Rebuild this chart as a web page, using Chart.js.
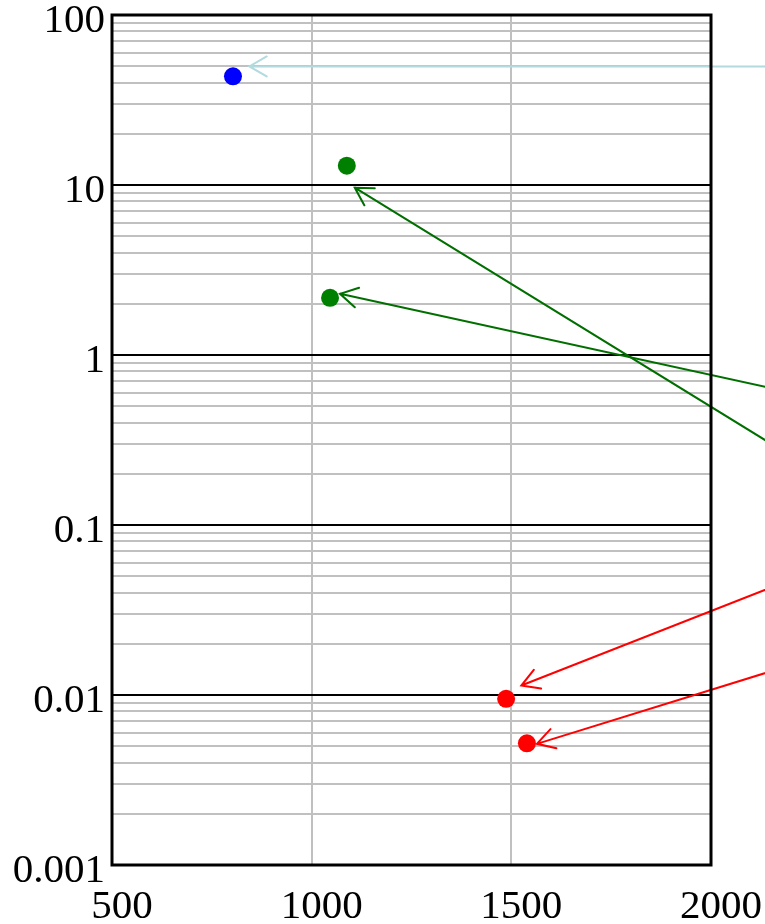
<!DOCTYPE html>
<html>
<head>
<meta charset="utf-8">
<script src="https://cdn.jsdelivr.net/npm/chart.js@4/dist/chart.umd.min.js"></script>
<style>
  html, body { margin: 0; padding: 0; background: #ffffff; }
  #wrap { width: 765px; height: 924px; }
</style>
</head>
<body>
<div id="wrap"><canvas id="chart" width="765" height="924"></canvas></div>
<script>
// Measured points, grouped by colour
const blueX  = [803];
const blueY  = [43.6];
const greenX = [1088, 1046];
const greenY = [13.0, 2.17];
const redX   = [1487, 1539];
const redY   = [0.0095, 0.0052];

// Callout arrows (tail far to the right, tip next to a point)
const arrowTailX = [2250, 2250, 2250, 2250, 2250];
const arrowTailY = [49.8, 0.216, 0.568, 0.0530, 0.0163];
const arrowTipX  = [844, 1108, 1071, 1525, 1564];
const arrowTipY  = [49.8, 9.64, 2.29, 0.01137, 0.00516];
const arrowColors = ['#b2dadf', '#006f00', '#006f00', '#ff0000', '#ff0000'];

// Axis ticks
const xTicks = [500, 1000, 1500, 2000];
const yDecades = [0.001, 0.01, 0.1, 1, 10, 100];
const yMinorSteps = [2, 3, 4, 5, 6, 7, 8, 9];

const toPoints = (xs, ys) => xs.map((x, i) => ({ x: x, y: ys[i] }));

const serif = { family: "'Liberation Serif', 'Times New Roman', serif", size: 41 };

// Frame around the plot and callout arrows
const overlay = {
  id: 'overlay',
  afterDatasetsDraw(chart) {
    const { ctx, chartArea: a, scales: { x, y } } = chart;
    ctx.save();
    ctx.lineWidth = 2;
    ctx.lineCap = 'round';
    for (let i = 0; i < arrowTipX.length; i++) {
      const x0 = x.getPixelForValue(arrowTailX[i]);
      const y0 = y.getPixelForValue(arrowTailY[i]);
      const x1 = x.getPixelForValue(arrowTipX[i]);
      const y1 = y.getPixelForValue(arrowTipY[i]);
      const ang = Math.atan2(y0 - y1, x0 - x1);
      const len = 20, spread = Math.PI / 6;
      ctx.strokeStyle = arrowColors[i];
      ctx.beginPath();
      ctx.moveTo(x0, y0);
      ctx.lineTo(x1, y1);
      ctx.moveTo(x1 + len * Math.cos(ang - spread), y1 + len * Math.sin(ang - spread));
      ctx.lineTo(x1, y1);
      ctx.lineTo(x1 + len * Math.cos(ang + spread), y1 + len * Math.sin(ang + spread));
      ctx.stroke();
    }
    ctx.strokeStyle = '#000000';
    ctx.lineWidth = 3;
    ctx.lineCap = 'butt';
    ctx.strokeRect(a.left, a.top, a.right - a.left, a.bottom - a.top);
    ctx.restore();
  }
};

new Chart(document.getElementById('chart'), {
  type: 'scatter',
  data: {
    datasets: [
      { data: toPoints(blueX, blueY),   backgroundColor: '#0000ff', borderColor: '#0000ff' },
      { data: toPoints(greenX, greenY), backgroundColor: '#008000', borderColor: '#008000' },
      { data: toPoints(redX, redY),     backgroundColor: '#ff0000', borderColor: '#ff0000' }
    ]
  },
  options: {
    responsive: false,
    animation: false,
    devicePixelRatio: 1,
    layout: { padding: { top: 15, right: 54, bottom: 0, left: 0 } },
    elements: { point: { radius: 9, hoverRadius: 9, borderWidth: 0 } },
    plugins: { legend: { display: false }, tooltip: { enabled: false } },
    scales: {
      x: {
        type: 'linear',
        min: xTicks[0],
        max: xTicks[xTicks.length - 1],
        afterBuildTicks: (s) => { s.ticks = xTicks.map(v => ({ value: v })); },
        afterFit: (s) => { s.height = 59; s.paddingLeft = 0; s.paddingRight = 0; },
        border: { display: false },
        grid: { color: '#c0c0c0', lineWidth: 2, drawTicks: false },
        ticks: {
          font: serif, color: '#000000', padding: 18, labelOffset: 10,
          maxRotation: 0, autoSkip: false,
          callback: (v) => String(v)
        }
      },
      y: {
        type: 'logarithmic',
        min: yDecades[0],
        max: yDecades[yDecades.length - 1],
        afterBuildTicks: (s) => {
          const t = [];
          yDecades.forEach((d, i) => {
            t.push({ value: d, major: true });
            if (i < yDecades.length - 1) {
              yMinorSteps.forEach(m => t.push({ value: Number((d * m).toPrecision(6)) }));
            }
          });
          s.ticks = t;
        },
        afterFit: (s) => { s.width = 112; s.paddingTop = 0; s.paddingBottom = 0; },
        border: { display: false },
        grid: {
          drawTicks: false,
          lineWidth: 2,
          color: (c) => (c.tick && yDecades.includes(c.tick.value)) ? '#000000' : '#c0c0c0'
        },
        ticks: {
          font: serif, color: '#000000', padding: 7, labelOffset: 6, autoSkip: false,
          callback: (v) => yDecades.includes(v) ? String(v) : ''
        }
      }
    }
  },
  plugins: [overlay]
});
</script>
</body>
</html>
